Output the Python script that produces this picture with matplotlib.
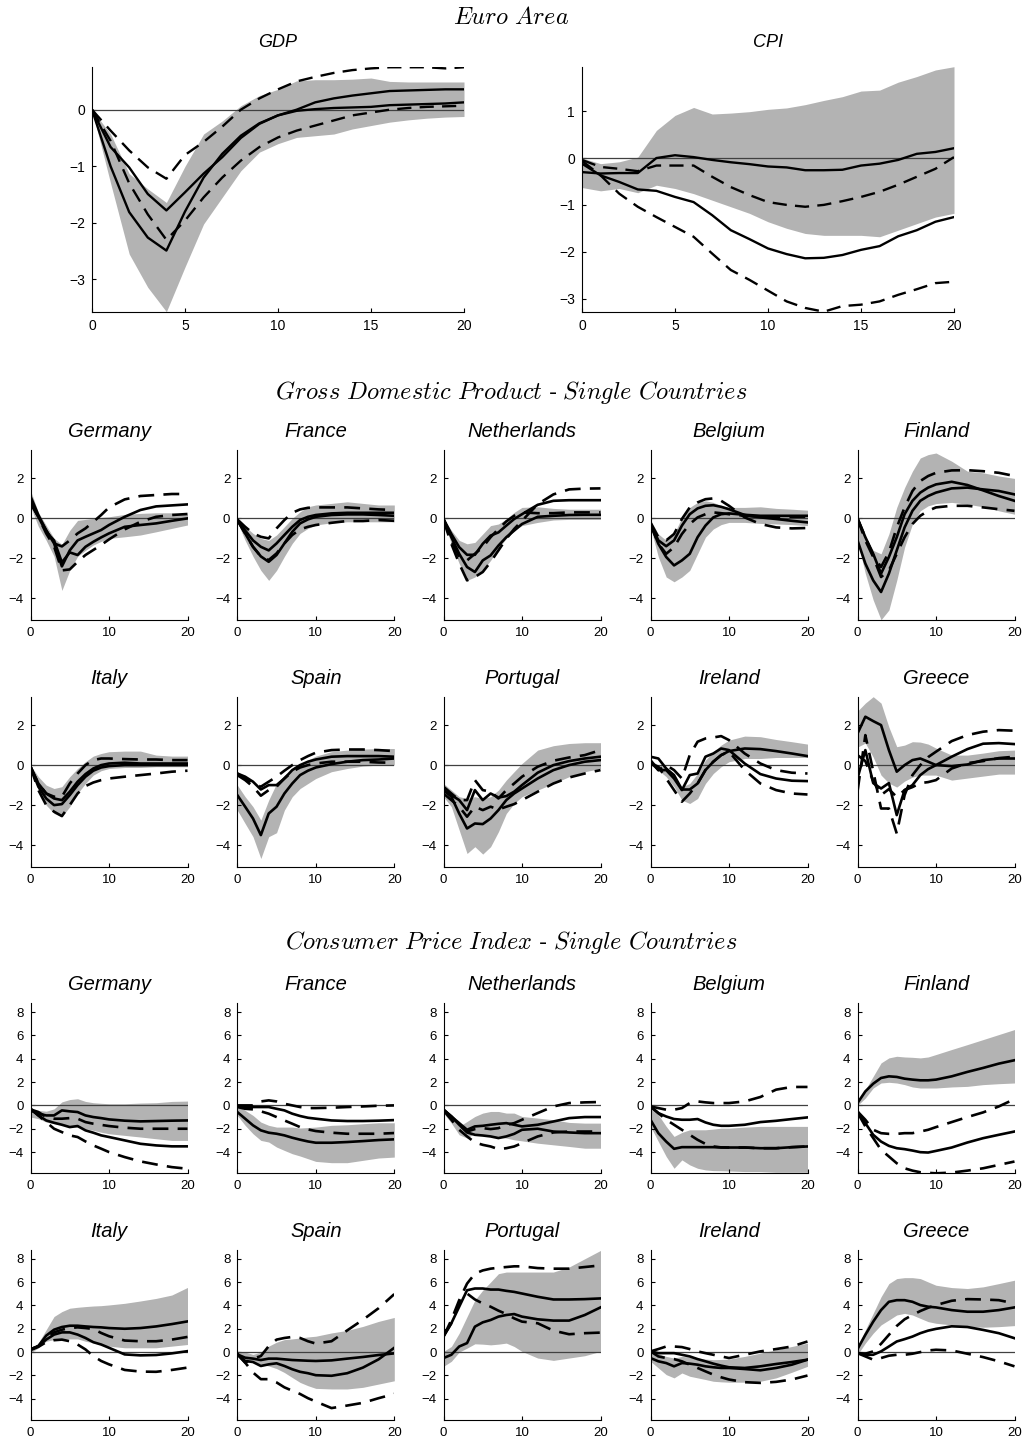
import matplotlib
matplotlib.use("Agg")
import matplotlib.pyplot as plt

plt.rcParams['font.family'] = ['Liberation Sans', 'DejaVu Sans']
plt.rcParams['mathtext.fontset'] = 'cm'

# impulse-response horizons
h_top = list(range(21))
h = [0, 1, 2, 3, 4, 5, 6, 7, 8, 9, 10, 12, 14, 16, 18, 20]

countries = ['Germany', 'France', 'Netherlands', 'Belgium', 'Finland',
             'Italy', 'Spain', 'Portugal', 'Ireland', 'Greece']

# each table: band upper, band lower, solid 1, solid 2, dashed 1, dashed 2
ea_gdp = [
    [0, -0.43, -1.13, -1.4, -1.64, -1.0, -0.43, -0.2, 0.07, 0.25, 0.36, 0.51, 0.53, 0.53, 0.54, 0.56, 0.5, 0.49, 0.49, 0.49, 0.49],
    [0, -1.3, -2.55, -3.14, -3.57, -2.78, -2.02, -1.55, -1.08, -0.75, -0.6, -0.49, -0.46, -0.43, -0.34, -0.28, -0.22, -0.18, -0.15, -0.13, -0.12],
    [0, -0.66, -1.02, -1.49, -1.78, -1.46, -1.13, -0.84, -0.5, -0.25, -0.1, -0.02, 0.01, 0.03, 0.04, 0.05, 0.08, 0.09, 0.1, 0.11, 0.13],
    [0, -1.0, -1.81, -2.26, -2.49, -1.8, -1.2, -0.78, -0.46, -0.24, -0.1, 0.0, 0.13, 0.2, 0.25, 0.29, 0.33, 0.34, 0.35, 0.36, 0.36],
    [0, -0.37, -0.72, -1.02, -1.22, -0.8, -0.57, -0.3, 0.0, 0.2, 0.36, 0.5, 0.58, 0.65, 0.7, 0.73, 0.75, 0.75, 0.75, 0.73, 0.75],
    [0, -0.55, -1.3, -1.85, -2.3, -1.96, -1.55, -1.2, -0.9, -0.66, -0.49, -0.37, -0.28, -0.19, -0.1, -0.05, 0.0, 0.03, 0.05, 0.06, 0.07],
]
ea_cpi = [
    [0.0, -0.12, -0.08, 0.02, 0.59, 0.91, 1.08, 0.94, 0.96, 0.99, 1.04, 1.07, 1.14, 1.23, 1.31, 1.43, 1.45, 1.62, 1.74, 1.88, 1.95],
    [-0.63, -0.7, -0.65, -0.74, -0.58, -0.65, -0.76, -0.9, -1.04, -1.18, -1.36, -1.5, -1.61, -1.65, -1.65, -1.65, -1.68, -1.54, -1.4, -1.26, -1.18],
    [-0.3, -0.33, -0.32, -0.32, 0.0, 0.06, 0.02, -0.04, -0.09, -0.13, -0.18, -0.2, -0.26, -0.26, -0.25, -0.16, -0.12, -0.04, 0.09, 0.13, 0.21],
    [-0.12, -0.37, -0.51, -0.67, -0.7, -0.83, -0.94, -1.22, -1.54, -1.73, -1.93, -2.05, -2.14, -2.13, -2.07, -1.96, -1.88, -1.67, -1.54, -1.36, -1.26],
    [-0.04, -0.19, -0.23, -0.28, -0.16, -0.16, -0.16, -0.4, -0.62, -0.79, -0.94, -1.0, -1.04, -1.0, -0.92, -0.83, -0.72, -0.57, -0.4, -0.23, 0.02],
    [-0.06, -0.37, -0.76, -1.04, -1.26, -1.47, -1.68, -2.04, -2.39, -2.6, -2.83, -3.06, -3.2, -3.28, -3.16, -3.13, -3.06, -2.92, -2.8, -2.67, -2.64],
]

gdp_germany = [
    [1.4, 0.3, -0.35, -1.0, -1.3, -0.6, -0.1, -0.05, 0.0, 0.05, 0.08, 0.2, 0.25, 0.28, 0.28, 0.2],
    [0.6, -0.4, -1.1, -1.9, -3.6, -2.6, -1.9, -1.6, -1.33, -1.15, -1.0, -0.92, -0.83, -0.67, -0.5, -0.33],
    [1.1, 0.17, -0.6, -1.25, -2.4, -1.6, -1.1, -0.92, -0.75, -0.58, -0.33, 0.08, 0.42, 0.6, 0.65, 0.7],
    [0.83, 0.08, -0.67, -1.1, -2.2, -1.7, -1.83, -1.42, -1.17, -0.95, -0.75, -0.42, -0.33, -0.25, -0.12, 0.0],
    [0.9, 0.08, -0.6, -1.25, -1.4, -1.1, -0.75, -0.5, -0.17, 0.17, 0.55, 0.95, 1.12, 1.17, 1.22, 1.22],
    [0.75, 0.08, -0.75, -1.4, -2.6, -2.55, -2.17, -1.83, -1.58, -1.33, -1.05, -0.55, -0.17, 0.08, 0.17, 0.22],
]
gdp_france = [
    [0, -0.4, -0.75, -1.0, -1.1, -0.83, -0.42, 0, 0.33, 0.58, 0.67, 0.75, 0.83, 0.75, 0.67, 0.67],
    [-0.17, -1.1, -1.9, -2.6, -3.1, -2.6, -1.9, -1.25, -0.75, -0.5, -0.33, -0.22, -0.17, -0.17, -0.17, -0.17],
    [-0.08, -0.6, -1.1, -1.42, -1.6, -1.25, -0.83, -0.42, -0.08, 0.08, 0.17, 0.25, 0.28, 0.28, 0.28, 0.28],
    [-0.08, -0.75, -1.42, -1.9, -2.17, -1.83, -1.25, -0.67, -0.25, -0.05, 0.08, 0.17, 0.2, 0.2, 0.17, 0.13],
    [-0.05, -0.42, -0.75, -0.92, -1.0, -0.5, -0.08, 0.28, 0.45, 0.53, 0.55, 0.55, 0.55, 0.5, 0.45, 0.42],
    [-0.08, -0.75, -1.42, -1.9, -2.08, -1.75, -1.25, -0.83, -0.55, -0.42, -0.33, -0.22, -0.13, -0.13, -0.08, -0.12],
]
gdp_netherlands = [
    [0, -0.6, -1.1, -1.27, -1.2, -0.78, -0.36, -0.28, -0.03, 0.3, 0.55, 0.58, 0.5, 0.46, 0.46, 0.46],
    [-0.1, -1.27, -2.26, -3.1, -2.93, -2.6, -2.1, -1.5, -1.0, -0.6, -0.36, -0.2, -0.08, -0.05, -0.05, -0.05],
    [-0.03, -0.78, -1.44, -1.82, -1.82, -1.27, -0.86, -0.7, -0.36, -0.03, 0.21, 0.68, 0.88, 0.91, 0.91, 0.91],
    [-0.03, -0.94, -1.77, -2.43, -2.68, -2.1, -1.85, -1.36, -0.94, -0.61, -0.28, 0.08, 0.13, 0.17, 0.18, 0.18],
    [-0.03, -1.1, -1.93, -2.1, -1.77, -1.44, -0.94, -0.53, -0.15, 0.13, 0.3, 0.26, 0.26, 0.3, 0.3, 0.3],
    [-0.1, -1.27, -2.26, -3.1, -2.93, -2.68, -2.18, -1.6, -1.02, -0.53, -0.12, 0.71, 1.2, 1.45, 1.49, 1.5],
]
gdp_belgium = [
    [-0.1, -0.78, -1.1, -0.78, 0.05, 0.55, 0.8, 0.88, 0.8, 0.63, 0.55, 0.55, 0.58, 0.5, 0.46, 0.41],
    [-0.45, -1.93, -2.93, -3.17, -2.93, -2.6, -1.77, -0.94, -0.53, -0.31, -0.2, -0.2, -0.25, -0.28, -0.31, -0.36],
    [-0.28, -1.1, -1.39, -1.1, -0.36, 0.21, 0.5, 0.63, 0.66, 0.58, 0.46, 0.17, 0.05, -0.03, -0.12, -0.2],
    [-0.28, -1.27, -1.93, -2.35, -2.1, -1.77, -0.94, -0.36, 0.05, 0.21, 0.25, 0.18, 0.13, 0.13, 0.13, 0.13],
    [-0.2, -0.94, -1.1, -0.78, -0.03, 0.55, 0.8, 0.96, 1.0, 0.88, 0.63, 0.05, -0.28, -0.45, -0.5, -0.48],
    [-0.28, -1.27, -1.77, -1.44, -0.78, -0.28, 0.05, 0.21, 0.3, 0.26, 0.21, 0.13, 0.08, 0.08, 0.08, 0.08],
]
gdp_finland = [
    [0, -0.94, -1.6, -1.77, -0.78, 0.55, 1.54, 2.36, 3.02, 3.19, 3.27, 2.86, 2.36, 2.28, 2.12, 2.0],
    [-1.1, -2.76, -4.08, -5.07, -4.58, -3.1, -1.44, -0.28, 0.38, 0.63, 0.74, 0.8, 0.71, 0.58, 0.38, 0.21],
    [0, -0.94, -1.77, -2.76, -1.93, -0.94, 0.21, 0.88, 1.29, 1.54, 1.7, 1.83, 1.67, 1.4, 1.12, 0.88],
    [-1.1, -2.26, -3.1, -3.68, -2.76, -1.6, -0.45, 0.38, 0.88, 1.12, 1.29, 1.5, 1.54, 1.45, 1.37, 1.2],
    [0, -0.94, -1.85, -2.43, -1.69, -0.45, 0.55, 1.37, 1.87, 2.12, 2.28, 2.4, 2.41, 2.36, 2.28, 2.12],
    [0, -1.1, -1.93, -2.93, -2.6, -1.77, -0.94, -0.28, 0.13, 0.38, 0.55, 0.63, 0.63, 0.55, 0.46, 0.38],
]
gdp_italy = [
    [0, -0.58, -1.0, -1.17, -1.08, -0.58, -0.17, 0.17, 0.45, 0.58, 0.67, 0.7, 0.7, 0.5, 0.45, 0.45],
    [-0.17, -1.25, -2.0, -2.42, -2.58, -2.08, -1.42, -0.92, -0.5, -0.28, -0.17, -0.12, -0.12, -0.08, -0.08, -0.08],
    [-0.08, -0.92, -1.42, -1.67, -1.75, -1.33, -0.83, -0.45, -0.17, 0, 0.08, 0.12, 0.08, 0.08, 0.08, 0.08],
    [-0.08, -1.08, -1.67, -2.0, -1.95, -1.5, -1.0, -0.58, -0.28, -0.12, -0.05, 0, 0, 0, 0, 0],
    [-0.08, -0.92, -1.42, -1.58, -1.58, -0.92, -0.42, 0, 0.25, 0.33, 0.33, 0.3, 0.28, 0.28, 0.25, 0.25],
    [-0.08, -1.25, -2.0, -2.33, -2.55, -2.0, -1.42, -1.05, -0.87, -0.75, -0.67, -0.58, -0.5, -0.42, -0.33, -0.28],
]
gdp_spain = [
    [-1.0, -1.58, -2.08, -2.75, -1.75, -0.92, -0.5, -0.25, 0, 0.25, 0.45, 0.67, 0.75, 0.8, 0.83, 0.83],
    [-2.25, -2.92, -3.58, -4.67, -3.58, -3.38, -2.25, -1.58, -1.17, -0.92, -0.67, -0.33, -0.17, -0.05, 0, 0],
    [-0.42, -0.58, -0.83, -1.22, -1.0, -1.0, -0.67, -0.25, 0, 0.17, 0.28, 0.42, 0.45, 0.45, 0.45, 0.42],
    [-1.5, -2.08, -2.67, -3.5, -2.42, -2.08, -1.42, -0.92, -0.5, -0.28, -0.12, 0.05, 0.17, 0.25, 0.28, 0.33],
    [-0.42, -0.67, -0.92, -1.08, -0.83, -0.58, -0.28, 0, 0.25, 0.45, 0.62, 0.75, 0.78, 0.78, 0.75, 0.7],
    [-0.5, -0.75, -1.08, -1.53, -1.25, -1.08, -0.67, -0.33, -0.12, 0, 0.08, 0.17, 0.17, 0.17, 0.13, 0.12],
]
gdp_portugal = [
    [-0.92, -1.25, -1.58, -1.67, -1.58, -1.67, -1.58, -1.25, -0.75, -0.33, 0.08, 0.75, 0.97, 1.08, 1.12, 1.12],
    [-1.58, -2.08, -3.25, -4.42, -4.08, -4.45, -4.08, -3.33, -2.42, -1.92, -1.58, -1.25, -0.92, -0.58, -0.33, -0.17],
    [-1.25, -1.5, -1.75, -2.25, -1.25, -1.75, -1.42, -1.62, -1.55, -1.33, -1.0, -0.38, 0, 0.2, 0.33, 0.42],
    [-1.25, -1.58, -2.42, -3.17, -2.92, -2.95, -2.67, -2.25, -1.75, -1.42, -1.17, -0.67, -0.25, 0, 0.17, 0.25],
    [-1.08, -1.42, -1.75, -1.75, -0.75, -1.25, -1.33, -1.67, -1.25, -0.92, -0.58, -0.08, 0.22, 0.38, 0.5, 0.75],
    [-1.42, -1.75, -2.08, -2.58, -2.08, -2.25, -2.08, -2.22, -2.08, -1.95, -1.75, -1.33, -0.92, -0.62, -0.42, -0.25],
]
gdp_ireland = [
    [0.25, 0, -0.08, -0.58, -1.08, -0.92, -0.42, 0.25, 0.67, 1.0, 1.25, 1.45, 1.42, 1.28, 1.17, 1.05],
    [0, -0.25, -0.58, -1.08, -1.75, -1.92, -1.67, -0.92, -0.42, -0.08, 0.17, 0.33, 0.33, 0.38, 0.38, 0.38],
    [0.42, 0.33, -0.17, -0.5, -1.22, -1.22, -0.92, -0.25, 0.17, 0.5, 0.7, 0.83, 0.8, 0.7, 0.58, 0.45],
    [0.25, -0.25, -0.25, -0.67, -1.25, -0.5, -0.42, 0.42, 0.58, 0.83, 0.75, 0.08, -0.45, -0.67, -0.78, -0.8],
    [0.17, -0.25, 0, -0.25, -0.67, 0.5, 1.17, 1.33, 1.38, 1.45, 1.25, 0.58, 0.08, -0.25, -0.38, -0.42],
    [0.08, -0.08, -0.67, -1.25, -1.83, -1.42, -0.92, -0.25, 0.17, 0.5, 0.67, -0.25, -0.92, -1.25, -1.42, -1.47],
]
gdp_greece = [
    [2.7, 3.1, 3.42, 3.1, 1.9, 0.92, 1.0, 1.17, 1.15, 1.05, 0.85, 0.5, 0.5, 0.6, 0.72, 0.75],
    [0.9, 1.1, 0.4, -0.5, -0.9, -1.1, -0.8, -0.6, -0.5, -0.5, -0.5, -0.75, -0.65, -0.55, -0.45, -0.45],
    [1.58, 2.42, 2.2, 2.0, 0.75, -0.33, 0.0, 0.25, 0.33, 0.17, 0, -0.05, 0.03, 0.25, 0.33, 0.33],
    [-0.67, 0.75, -0.9, -1.17, -0.9, -2.5, -1.25, -1.0, -0.5, -0.2, 0, 0.42, 0.8, 1.07, 1.1, 1.05],
    [0.5, 0.2, -0.8, -1.5, -1.2, -1.6, -1.25, -1.1, -0.9, -0.85, -0.75, -0.17, 0.1, 0.2, 0.35, 0.42],
    [-1.33, 1.5, -0.3, -2.17, -2.17, -3.42, -1.5, -0.5, 0.0, 0.4, 0.67, 1.2, 1.5, 1.67, 1.75, 1.72],
]

cpi_germany = [
    [-0.3, -0.43, -0.5, -0.3, 0.3, 0.5, 0.57, 0.34, 0.23, 0.18, 0.14, 0.14, 0.2, 0.23, 0.34, 0.37],
    [-1.0, -1.14, -1.43, -1.57, -1.66, -1.77, -1.86, -2.0, -2.14, -2.3, -2.43, -2.57, -2.71, -2.86, -3.0, -3.0],
    [-0.43, -0.71, -0.86, -0.86, -0.43, -0.51, -0.57, -0.86, -1.0, -1.09, -1.2, -1.31, -1.37, -1.34, -1.31, -1.29],
    [-0.29, -0.86, -1.29, -1.49, -1.66, -1.86, -1.77, -2.14, -2.34, -2.57, -2.71, -3.0, -3.29, -3.43, -3.51, -3.51],
    [-0.34, -0.57, -1.0, -1.14, -1.14, -1.09, -1.14, -1.43, -1.57, -1.67, -1.77, -1.91, -2.0, -2.0, -2.0, -2.0],
    [-0.29, -0.86, -1.43, -2.0, -2.29, -2.57, -2.71, -3.09, -3.43, -3.71, -4.0, -4.43, -4.8, -5.06, -5.29, -5.43],
]
cpi_france = [
    [0, -0.43, -0.86, -1.43, -1.71, -1.86, -1.86, -1.86, -1.94, -1.9, -1.86, -1.71, -1.66, -1.57, -1.49, -1.49],
    [-0.86, -1.71, -2.43, -3.0, -3.14, -3.57, -3.86, -4.14, -4.34, -4.57, -4.8, -4.91, -4.91, -4.71, -4.51, -4.43],
    [-0.06, -0.14, -0.14, -0.14, -0.14, -0.29, -0.43, -0.71, -0.91, -1.06, -1.14, -1.29, -1.34, -1.34, -1.31, -1.26],
    [-0.57, -1.14, -1.71, -2.14, -2.34, -2.43, -2.57, -2.77, -2.94, -3.09, -3.2, -3.2, -3.14, -3.06, -2.97, -2.91],
    [0, 0, 0, 0.34, 0.43, 0.34, 0.14, 0, -0.14, -0.23, -0.23, -0.2, -0.14, -0.09, -0.03, 0],
    [-0.14, -0.29, -0.34, -0.51, -0.71, -1.0, -1.29, -1.57, -1.86, -2.06, -2.2, -2.34, -2.43, -2.43, -2.43, -2.37],
]
cpi_netherlands = [
    [-0.23, -0.95, -1.8, -1.38, -0.95, -0.66, -0.52, -0.52, -0.66, -0.66, -0.95, -1.09, -1.23, -1.46, -1.52, -1.52],
    [-0.66, -1.52, -2.52, -2.8, -2.38, -2.52, -2.66, -2.75, -2.8, -2.95, -3.04, -3.24, -3.38, -3.52, -3.67, -3.67],
    [-0.37, -0.95, -1.52, -2.09, -1.8, -1.75, -1.66, -1.58, -1.52, -1.66, -1.8, -1.66, -1.38, -1.09, -1.0, -1.0],
    [-0.37, -0.95, -1.66, -2.32, -2.52, -2.58, -2.66, -2.8, -2.66, -2.44, -2.09, -2.0, -2.24, -2.32, -2.38, -2.38],
    [-0.37, -0.95, -1.66, -2.24, -2.03, -1.95, -2.03, -1.95, -1.66, -1.52, -1.23, -0.66, -0.09, 0.2, 0.26, 0.29],
    [-0.43, -1.23, -2.09, -2.66, -3.18, -3.38, -3.52, -3.75, -3.67, -3.52, -3.24, -2.66, -2.32, -2.24, -2.24, -2.24],
]
cpi_belgium = [
    [0, -0.8, -1.8, -2.66, -2.32, -2.09, -2.09, -2.09, -2.03, -1.95, -1.95, -1.86, -1.8, -1.8, -1.8, -1.8],
    [-1.8, -3.1, -4.38, -5.39, -4.67, -5.1, -5.39, -5.53, -5.59, -5.6, -5.62, -5.67, -5.67, -5.73, -5.73, -5.73],
    [-0.09, -0.66, -0.95, -1.17, -1.23, -1.23, -1.17, -1.46, -1.66, -1.75, -1.75, -1.66, -1.43, -1.32, -1.17, -1.03],
    [-1.23, -2.38, -3.1, -3.72, -3.58, -3.58, -3.58, -3.58, -3.58, -3.6, -3.61, -3.61, -3.67, -3.67, -3.58, -3.52],
    [-0.09, -0.23, -0.37, -0.37, -0.23, 0.2, 0.34, 0.26, 0.2, 0.2, 0.2, 0.34, 0.72, 1.35, 1.58, 1.58],
    [-0.09, -0.66, -1.23, -1.66, -2.09, -2.52, -2.95, -3.3, -3.52, -3.6, -3.61, -3.61, -3.67, -3.67, -3.58, -3.52],
]
cpi_finland = [
    [0.2, 1.35, 2.49, 3.64, 4.07, 4.21, 4.15, 4.12, 4.07, 4.15, 4.36, 4.79, 5.21, 5.64, 6.07, 6.5],
    [0, 0.63, 1.49, 1.92, 1.98, 1.92, 1.78, 1.58, 1.49, 1.49, 1.49, 1.58, 1.63, 1.78, 1.86, 1.92],
    [0.2, 1.2, 1.86, 2.35, 2.49, 2.44, 2.29, 2.21, 2.15, 2.15, 2.21, 2.49, 2.87, 3.21, 3.58, 3.87],
    [-0.52, -1.52, -2.52, -3.1, -3.47, -3.67, -3.75, -3.87, -4.01, -4.04, -3.9, -3.61, -3.18, -2.81, -2.52, -2.24],
    [-0.52, -1.23, -2.09, -2.38, -2.44, -2.44, -2.38, -2.38, -2.24, -2.09, -1.86, -1.43, -1.0, -0.6, -0.09, 0.54],
    [-0.6, -1.8, -2.8, -3.81, -4.38, -4.96, -5.39, -5.59, -5.73, -5.78, -5.82, -5.76, -5.59, -5.39, -5.1, -4.81],
]
cpi_italy = [
    [0.08, 0.79, 1.92, 3.05, 3.47, 3.76, 3.84, 3.9, 3.95, 3.98, 4.04, 4.18, 4.38, 4.6, 4.89, 5.54],
    [-0.06, 0.37, 0.93, 1.07, 1.13, 1.13, 1.13, 0.93, 0.79, 0.65, 0.51, 0.37, 0.37, 0.37, 0.51, 0.65],
    [0.23, 0.51, 1.41, 1.92, 2.15, 2.26, 2.26, 2.2, 2.15, 2.12, 2.06, 2.0, 2.06, 2.2, 2.4, 2.63],
    [0.23, 0.51, 1.07, 1.5, 1.69, 1.69, 1.5, 1.21, 0.85, 0.65, 0.37, -0.2, -0.28, -0.25, -0.11, 0.08],
    [0.23, 0.51, 1.21, 1.69, 1.92, 2.06, 2.12, 2.06, 1.98, 1.64, 1.36, 0.99, 0.93, 0.93, 1.07, 1.3],
    [0.17, 0.45, 0.85, 1.02, 1.07, 0.93, 0.65, 0.23, -0.34, -0.76, -1.05, -1.53, -1.67, -1.69, -1.53, -1.33],
]
cpi_spain = [
    [0.08, 0.0, -0.2, 0.0, 0.51, 0.85, 1.07, 1.13, 1.21, 1.3, 1.36, 1.64, 1.86, 2.2, 2.63, 2.97],
    [-0.34, -0.62, -0.9, -1.05, -1.19, -1.41, -1.75, -2.18, -2.6, -2.88, -3.11, -3.16, -3.16, -3.02, -2.74, -2.46],
    [-0.2, -0.48, -0.56, -0.68, -0.56, -0.56, -0.62, -0.68, -0.71, -0.74, -0.76, -0.71, -0.56, -0.42, -0.25, -0.11],
    [-0.2, -0.76, -0.85, -1.19, -1.05, -0.96, -1.19, -1.47, -1.69, -1.81, -1.98, -2.03, -1.81, -1.33, -0.62, 0.37],
    [-0.11, -0.9, -0.56, -0.34, 0.51, 1.07, 1.21, 1.3, 1.21, 0.93, 0.73, 0.93, 1.86, 2.77, 3.76, 4.97],
    [-0.2, -0.9, -1.75, -2.32, -2.32, -2.6, -3.02, -3.31, -3.59, -3.95, -4.24, -4.8, -4.58, -4.35, -3.95, -3.59],
]
cpi_portugal = [
    [0.06, 0.48, 1.62, 3.04, 4.45, 5.3, 6.0, 6.72, 6.86, 6.86, 6.86, 6.86, 6.86, 7.29, 8.0, 8.71],
    [-1.22, -0.79, 0, 0.34, 0.71, 0.68, 0.62, 0.68, 0.77, 0.48, 0.06, -0.51, -0.71, -0.51, -0.31, 0.06],
    [1.39, 2.47, 3.89, 5.3, 5.45, 5.45, 5.36, 5.36, 5.25, 5.16, 5.02, 4.74, 4.51, 4.51, 4.54, 4.6],
    [-0.51, -0.23, 0.48, 0.77, 2.18, 2.55, 2.75, 3.04, 3.18, 3.26, 3.04, 2.81, 2.7, 2.7, 3.18, 3.83],
    [1.33, 2.75, 4.45, 5.87, 6.72, 7.0, 7.15, 7.23, 7.29, 7.35, 7.35, 7.2, 7.15, 7.15, 7.29, 7.43],
    [1.33, 2.47, 4.17, 5.02, 4.51, 4.17, 3.89, 3.55, 3.26, 2.89, 2.61, 2.47, 1.84, 1.53, 1.62, 1.67],
]
cpi_ireland = [
    [0.06, -0.14, -0.37, -0.51, -0.37, -0.43, -0.51, -0.6, -0.65, -0.63, -0.6, -0.37, -0.09, 0.2, 0.48, 0.77],
    [-0.79, -1.36, -1.93, -2.21, -1.79, -2.07, -2.21, -2.35, -2.5, -2.55, -2.58, -2.58, -2.5, -2.21, -1.73, -1.22],
    [0.06, -0.09, -0.09, -0.09, -0.23, -0.37, -0.6, -0.79, -0.99, -1.16, -1.3, -1.36, -1.22, -1.02, -0.85, -0.65],
    [-0.51, -0.79, -0.94, -1.22, -0.94, -0.99, -1.08, -1.22, -1.3, -1.36, -1.36, -1.45, -1.56, -1.36, -1.08, -0.65],
    [0.06, 0.26, 0.48, 0.48, 0.43, 0.26, 0.06, -0.09, -0.23, -0.37, -0.51, -0.23, 0.06, 0.26, 0.48, 0.91],
    [0.06, -0.37, -0.51, -0.6, -0.79, -1.08, -1.36, -1.65, -1.93, -2.16, -2.35, -2.58, -2.64, -2.55, -2.35, -2.01],
]
cpi_greece = [
    [0.48, 1.9, 3.32, 4.74, 5.87, 6.3, 6.38, 6.38, 6.3, 6.01, 5.73, 5.53, 5.45, 5.59, 5.87, 6.16],
    [-0.23, 0.77, 1.62, 2.33, 2.75, 3.18, 3.32, 3.18, 2.89, 2.61, 2.47, 2.33, 2.18, 2.13, 2.18, 2.27],
    [0.26, 1.48, 2.61, 3.6, 4.31, 4.45, 4.45, 4.31, 4.03, 3.89, 3.83, 3.6, 3.46, 3.46, 3.6, 3.83],
    [-0.09, -0.23, -0.23, 0.06, 0.48, 0.91, 1.11, 1.33, 1.62, 1.84, 1.99, 2.21, 2.15, 1.9, 1.62, 1.19],
    [-0.09, -0.14, 0.06, 0.71, 1.48, 2.24, 2.81, 3.18, 3.52, 3.8, 4.03, 4.4, 4.54, 4.51, 4.45, 4.17],
    [-0.09, -0.37, -0.65, -0.51, -0.31, -0.23, -0.23, -0.14, 0, 0.14, 0.2, 0.14, -0.14, -0.43, -0.79, -1.22],
]

gdp_tables = [gdp_germany, gdp_france, gdp_netherlands, gdp_belgium, gdp_finland,
              gdp_italy, gdp_spain, gdp_portugal, gdp_ireland, gdp_greece]
cpi_tables = [cpi_germany, cpi_france, cpi_netherlands, cpi_belgium, cpi_finland,
              cpi_italy, cpi_spain, cpi_portugal, cpi_ireland, cpi_greece]

W, H = 1022, 1444
fig = plt.figure(figsize=(W / 100, H / 100), dpi=100)

BAND = '#b3b3b3'
DASH = (0, (6, 3.5))


def px_axes(left, top, width, height):
    return fig.add_axes([left / W, 1 - (top + height) / H, width / W, height / H])


def draw_irf(ax, x, tab, lw):
    hi, lo, s1, s2, d1, d2 = tab
    ax.fill_between(x, lo, hi, color=BAND, lw=0, zorder=1)
    ax.axhline(0, color='0.25', lw=0.9, zorder=2)
    for y in (s1, s2):
        ax.plot(x, y, color='k', lw=lw, zorder=3)
    for y in (d1, d2):
        ax.plot(x, y, color='k', lw=lw, ls=DASH, zorder=3)
    ax.set_xlim(0, 20)
    for side in ('top', 'right'):
        ax.spines[side].set_visible(False)
    for side in ('left', 'bottom'):
        ax.spines[side].set_linewidth(0.8)
    ax.tick_params(direction='in', length=3, width=0.8, pad=5)


def panel_title(ax, text, height_px, gap_px, size):
    ax.text(0.5, 1 + gap_px / height_px, text, transform=ax.transAxes,
            ha='center', va='center', fontsize=size, fontstyle='italic')


def section_title(y_px, text):
    fig.text(0.5, 1 - y_px / H, text, ha='center', va='center', fontsize=17.5)


# Euro area aggregates
section_title(18, r'$Euro\ Area$')
for left, tab, name, ylim, yt in [
        (92, ea_gdp, 'GDP', (-3.57, 0.76), [-3, -2, -1, 0]),
        (582, ea_cpi, 'CPI', (-3.28, 1.95), [-3, -2, -1, 0, 1])]:
    ax = px_axes(left, 66.7, 372, 245)
    draw_irf(ax, h_top, tab, lw=1.7)
    ax.set_ylim(*ylim)
    ax.set_yticks(yt)
    ax.set_xticks([0, 5, 10, 15, 20])
    ax.tick_params(labelsize=10)
    panel_title(ax, name, 245, 24.5, 13)

# single-country panels
lefts = [30.5, 237.3, 443.5, 650.5, 857.5]
section_title(392, r'$Gross\ Domestic\ Product$ - $Single\ Countries$')
section_title(943, r'$Consumer\ Price\ Index$ - $Single\ Countries$')

blocks = [
    (gdp_tables, [450, 696.7], (-5.08, 3.42), [-4, -2, 0, 2]),
    (cpi_tables, [1003.3, 1250], (-5.82, 8.75), [-4, -2, 0, 2, 4, 6, 8]),
]
for tables, tops, ylim, yt in blocks:
    for i, (name, tab) in enumerate(zip(countries, tables)):
        ax = px_axes(lefts[i % 5], tops[i // 5], 157, 170)
        draw_irf(ax, h, tab, lw=1.9)
        ax.set_ylim(*ylim)
        ax.set_yticks(yt)
        ax.set_xticks([0, 10, 20])
        ax.tick_params(labelsize=9.5)
        panel_title(ax, name, 170, 18.5, 14.5)

fig.savefig('out.png', dpi=100)
